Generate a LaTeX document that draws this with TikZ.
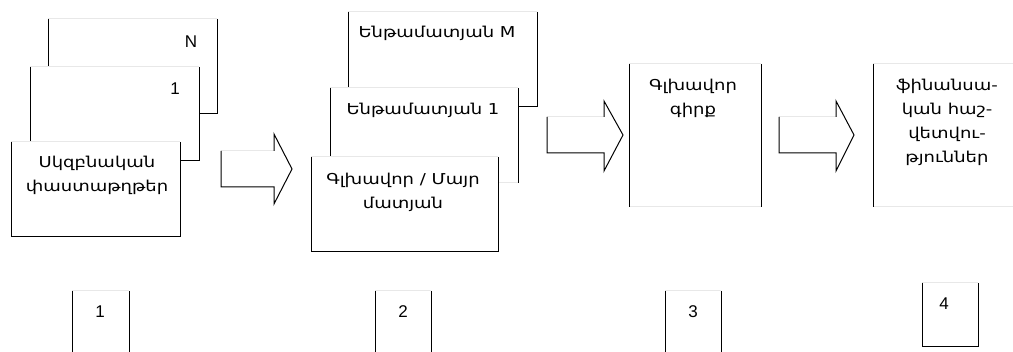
\documentclass[tikz,border=0pt]{standalone}
\usepackage{fontspec}
\setmainfont{DejaVu Sans}[FakeStretch=1.2]
\newfontfamily\latinfont{Liberation Sans}
\tikzset{
  faintline/.style={draw=black!9, line width=1pt},
  darkline/.style={draw=black, line width=1pt},
  sheetnode/.style={rectangle, fill=white, inner sep=0pt, outer sep=0pt, anchor=north west},
  lbl/.style={inner sep=0pt, align=center, font=\fontsize{15}{24}\selectfont},
  num/.style={inner sep=0pt, font=\latinfont\fontsize{17}{19}\selectfont},
}
% sheet with faint top edge; #1 = style of bottom edge
\newcommand{\sheet}[6][darkline]{%
  \node[sheetnode, minimum width=#5pt, minimum height=#6pt] (#2) at (#3,#4) {};
  \draw[faintline] (#2.north west) -- (#2.north east);
  \draw[#1] (#2.south west) -- (#2.south east);
  \draw[darkline] (#2.north west) -- (#2.south west);
  \draw[darkline] (#2.north east) -- (#2.south east);
}
% block arrow: name, tail x, head base x, tip x, shaft top y, shaft bottom y, head top y, head bottom y
\newcommand{\blockarrow}[8]{%
  \coordinate (#1t1) at (#2,#5); \coordinate (#1b1) at (#3,#5);
  \coordinate (#1h1) at (#3,#7); \coordinate (#1tip) at (#4,{(#5+#6)/2});
  \coordinate (#1h2) at (#3,#8); \coordinate (#1b2) at (#3,#6);
  \coordinate (#1t2) at (#2,#6);
  \fill[white] (#1t1) -- (#1b1) -- (#1h1) -- (#1tip) -- (#1h2) -- (#1b2) -- (#1t2) -- cycle;
  \draw[faintline] (#1t1) -- (#1b1);
  \draw[darkline, line join=miter] (#1b1) -- (#1h1) -- (#1tip) -- (#1h2) -- (#1b2) -- (#1t2) -- (#1t1);
}
\begin{document}
\begin{tikzpicture}[x=1pt,y=-1pt]
\useasboundingbox[fill=white] (0,0) rectangle (1013,352);

% group 1: source documents
\sheet{gN}{48}{19}{169}{95}
\node[num] (tN) at (191,42) {N};
\sheet{g1}{30}{67}{169}{94}
\node[num] (t1) at (175,89) {1};
\sheet{src}{11}{142}{169}{95}
\node[lbl] (tsrc) at (97,175) {Սկզբնական\\փաստաթղթեր};

% group 2: journals
\sheet{jM}{348}{12}{189}{95}
\node[lbl] (tjM) at (437,33) {Ենթամատյան M};
\sheet[faintline]{j1}{330}{88}{188}{95}
\node[lbl] (tj1) at (423,110) {Ենթամատյան 1};
\sheet{jm}{311}{157}{187}{95}
\node[lbl] (tjm) at (403,192) {Գլխավոր / Մայր\\մատյան};

% ledger
\sheet[faintline]{led}{629}{64}{132}{143}
\node[lbl] (tled) at (693,98) {Գլխավոր\\գիրք};

% financial statements
\node[sheetnode, minimum width=150pt, minimum height=143pt] (fin) at (873,64) {};
\draw[faintline] (fin.north west) -- (fin.north east);
\draw[faintline] (fin.south west) -- (fin.south east);
\draw[darkline] (fin.north west) -- (fin.south west);
\node[lbl] (tfin) at (947,122) {ֆինանսա-\\կան հաշ-\\վետվու-\\թյուններ};

% block arrows
\blockarrow{a1}{221}{274}{292}{151}{187}{134}{204}
\blockarrow{a2}{547}{604}{623}{117}{153}{101}{171}
\blockarrow{a3}{779}{836}{854}{117}{153}{101}{171}

% step numbers
\node[sheetnode, minimum width=57pt, minimum height=70pt] (s1) at (72,291) {};
\draw[faintline] (s1.north west) -- (s1.north east);
\draw[darkline] (s1.north west) -- (s1.south west);
\draw[darkline] (s1.north east) -- (s1.south east);
\node[num] (n1) at (100,312) {1};
\node[sheetnode, minimum width=56pt, minimum height=70pt] (s2) at (375,291) {};
\draw[faintline] (s2.north west) -- (s2.north east);
\draw[darkline] (s2.north west) -- (s2.south west);
\draw[darkline] (s2.north east) -- (s2.south east);
\node[num] (n2) at (403,312) {2};
\node[sheetnode, minimum width=56pt, minimum height=70pt] (s3) at (665,291) {};
\draw[faintline] (s3.north west) -- (s3.north east);
\draw[darkline] (s3.north west) -- (s3.south west);
\draw[darkline] (s3.north east) -- (s3.south east);
\node[num] (n3) at (693,312) {3};
\sheet{s4}{922}{283}{56}{64}
\node[num] (n4) at (944,304) {4};
\end{tikzpicture}
\end{document}
